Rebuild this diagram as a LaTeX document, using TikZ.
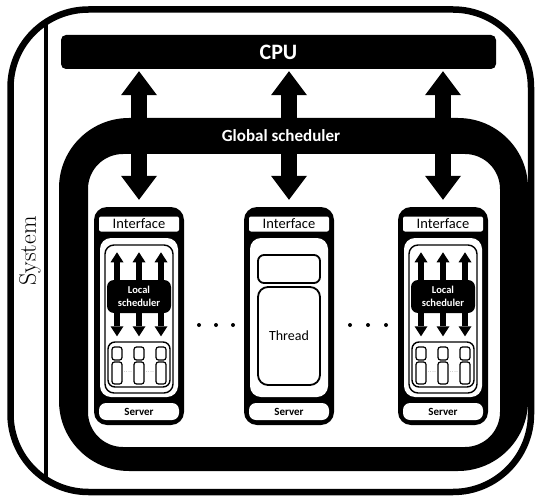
\documentclass[tikz,border=0pt]{standalone}
\usepackage{fontspec}
\setsansfont{Carlito}
\usetikzlibrary{arrows.meta, positioning}
\tikzset{
  bar/.style={rectangle, rounded corners=5pt, fill=black, text=white, inner sep=0pt,
              font=\sffamily\bfseries\fontsize{22}{26}\selectfont},
  srvframe/.style={rectangle, rounded corners=13pt, fill=black, inner sep=0pt,
              minimum width=90pt, minimum height=218pt},
  iface/.style={rectangle, rounded corners=2pt, fill=white, inner sep=0pt,
              minimum width=80pt, minimum height=15pt, font=\sffamily\fontsize{14.5}{16}\selectfont},
  srvbody/.style={rectangle, rounded corners=11pt, fill=white, inner sep=0pt,
              minimum width=78pt, minimum height=159pt},
  srvfoot/.style={rectangle, rounded corners=7pt, fill=white, inner sep=0pt,
              minimum width=80pt, minimum height=17pt, font=\sffamily\bfseries\fontsize{11}{13}\selectfont},
  wall/.style={rectangle, rounded corners=9pt, draw, line width=1.4pt, inner sep=0pt,
              minimum width=68pt, minimum height=148pt},
  lsched/.style={rectangle, rounded corners=7pt, fill=black, text=white, align=center, inner sep=0pt,
              minimum width=64pt, minimum height=33pt, font=\sffamily\bfseries\fontsize{10.5}{13.5}\selectfont},
  pool/.style={rectangle, rounded corners=7pt, draw, line width=1.4pt, inner sep=0pt,
              minimum width=62pt, minimum height=45pt},
  cell/.style={rectangle, rounded corners=2.5pt, draw, line width=1.2pt, inner sep=0pt,
              minimum width=10pt, minimum height=#1},
  slot/.style={rectangle, rounded corners=#1, draw, line width=1.8pt, inner sep=0pt,
              minimum width=62pt, font=\sffamily\fontsize{14}{16}\selectfont},
  busarrow/.style={line width=16pt,
              {Triangle[width=36pt,length=24pt,line width=0pt]}-{Triangle[width=36pt,length=24pt,line width=0pt]}},
  tinyarrow/.style={line width=6pt, -{Triangle[width=13pt,length=10pt,line width=0pt]}},
}
\begin{document}
\begin{tikzpicture}[x=1pt, y=-1pt]
  \useasboundingbox (0,0) rectangle (538,500);

  % --- system frame
  \begin{scope}
    \clip[rounded corners=78pt] (10.5,9.5) rectangle (531,492);
    \draw[line width=4.5pt] (46,0) -- (46,500);
  \end{scope}
  \draw[line width=6.5pt, rounded corners=78pt] (10.5,9.5) rectangle (531,492);
  \node[rotate=90, font=\fontsize{24}{28}\selectfont] (sys) at (30,251) {System};

  % --- CPU and global scheduler ring
  \node[bar, minimum width=435pt, minimum height=34pt] (cpu) at (278.5,52) {CPU};
  \fill[even odd rule, rounded corners=70pt] (59,118) rectangle (528,471)
        [rounded corners=35pt] (88,154) rectangle (500,447);

  % --- servers with local scheduler (left and right)
  \foreach \s/\cx in {A/139, C/443}{
    \node[srvframe] (frame\s) at (\cx,316) {};
    \node[iface]    (iface\s) at (\cx,224) {Interface};
    \node[srvbody]  (body\s)  at (\cx,317.5) {};
    \node[srvfoot]  (foot\s)  at (\cx,411.5) {Server};
    \node[wall]     (wall\s)  at (\cx,319) {};
    \node[lsched]   (lsched\s) at (\cx,296.5) {Local\\scheduler};
    \node[pool]     (pool\s)  at (\cx,364.5) {};
    \foreach \d in {-22,0,22}{
      \draw[tinyarrow, shorten >=8pt] ([xshift=\d pt]lsched\s.north) -- ([xshift=\d pt]wall\s.north);
      \draw[tinyarrow, shorten >=5pt] ([xshift=\d pt]lsched\s.south) -- ([xshift=\d pt]pool\s.north);
      \node[cell=13pt] at (\cx+\d,353.5) {};
      \node[cell=22pt] at (\cx+\d,373) {};
    }
    \node[font=\fontsize{5}{5}\selectfont, inner sep=0pt] at (\cx-11,372) {....};
    \node[font=\fontsize{5}{5}\selectfont, inner sep=0pt] at (\cx+11,372) {....};
  }

  % --- server with one thread (middle)
  \node[srvframe] (frameB) at (289,316) {};
  \node[iface]    (ifaceB) at (289,224) {Interface};
  \node[srvbody]  (bodyB)  at (289,317.5) {};
  \node[srvfoot]  (footB)  at (289,411.5) {Server};
  \node[slot=6pt, minimum height=28pt] (stack) at (289,269) {};
  \node[slot=10pt, minimum height=98pt] (thread) at (289,336) {Thread};

  % --- links CPU <-> servers
  \foreach \s in {A,B,C}{
    \draw[busarrow, shorten <=2pt, shorten >=7pt] (cpu.south -| frame\s.north) -- (frame\s.north);
  }
  \node[text=white, font=\sffamily\bfseries\fontsize{17}{20}\selectfont] (gsched) at (281,136) {Global scheduler};

  % --- dots between servers
  \foreach \x in {199,216,233,350,368,386}{ \fill (\x,325) circle[radius=2pt]; }
\end{tikzpicture}
\end{document}
